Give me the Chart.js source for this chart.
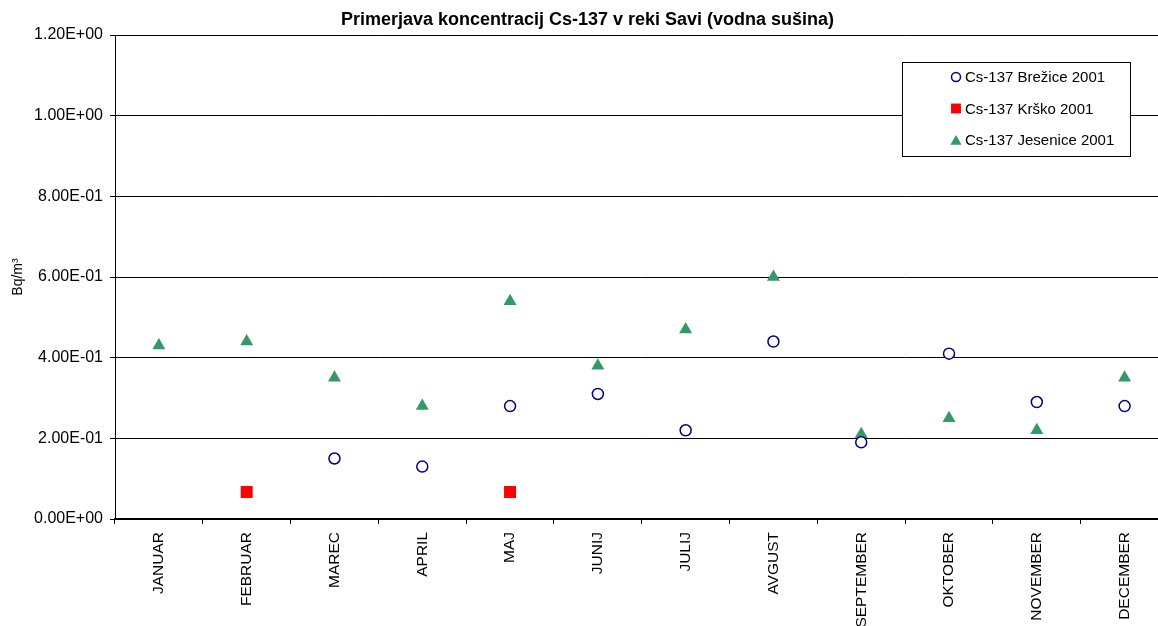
<!DOCTYPE html>
<html>
<head>
<meta charset="utf-8">
<script src="https://cdn.jsdelivr.net/npm/chart.js@4.4.1/dist/chart.umd.min.js"></script>
<style>
  html, body { margin: 0; padding: 0; background: #fff; overflow: hidden; }
  canvas { display: block; }
</style>
</head>
<body>
<canvas id="cs-chart" width="1177" height="626"></canvas>
<script>
// 数据
const months = ['JANUAR', 'FEBRUAR', 'MAREC', 'APRIL', 'MAJ', 'JUNIJ', 'JULIJ', 'AVGUST', 'SEPTEMBER', 'OKTOBER', 'NOVEMBER', 'DECEMBER'];
const brezice2001 = [null, null, 0.15, 0.13, 0.28, 0.31, 0.22, 0.44, 0.19, 0.41, 0.29, 0.28];
const krsko2001 = [null, 0.067, null, null, 0.067, null, null, null, null, null, null, null];
const jesenice2001 = [0.43, 0.44, 0.35, 0.28, 0.54, 0.38, 0.47, 0.60, 0.21, 0.25, 0.22, 0.35];
const seriesLabels = ['Cs-137 Brežice 2001', 'Cs-137 Krško 2001', 'Cs-137 Jesenice 2001'];

const FONT = '"Liberation Sans", Arial, sans-serif';

// Excel 风格的科学计数法
function sciLabel(v) {
    const s = Number(v).toExponential(2).toUpperCase();
    return s.replace(/E([+-])(\d)$/, 'E$10$2');
}

// 图例框（画在图表区域内右上角）
const boxLegend = {
    id: 'boxLegend',
    afterDraw(chart) {
        const ctx = chart.ctx;
        const x = 902, y = 62, w = 228, h = 94;
        ctx.save();
        ctx.fillStyle = '#fff';
        ctx.fillRect(x, y, w, h);
        ctx.strokeStyle = '#000';
        ctx.lineWidth = 1;
        ctx.strokeRect(x + 0.5, y + 0.5, w, h);
        ctx.font = '15px ' + FONT;
        ctx.textBaseline = 'middle';
        chart.data.datasets.forEach((ds, i) => {
            const cy = y + 15 + i * 31.5;
            ctx.fillStyle = ds.pointBackgroundColor;
            ctx.strokeStyle = ds.pointBorderColor;
            ctx.lineWidth = ds.pointBorderWidth;
            Chart.helpers.drawPoint(ctx, {
                pointStyle: ds.pointStyle,
                radius: ds.legendRadius,
                rotation: 0,
                borderWidth: ds.pointBorderWidth
            }, 956, cy + (ds.pointStyle === 'triangle' ? 1.5 : 0));
            ctx.fillStyle = '#000';
            ctx.fillText(ds.label, 965, cy + 1);
        });
        ctx.restore();
    }
};

const canvas = document.getElementById('cs-chart');

window.csChart = new Chart(canvas, {
    type: 'line',
    data: {
        labels: months,
        datasets: [
            {
                label: seriesLabels[0],
                data: brezice2001,
                showLine: false,
                pointStyle: 'circle',
                pointRadius: 5.5,
                legendRadius: 4.5,
                pointBackgroundColor: '#fff',
                pointBorderColor: '#000080',
                pointBorderWidth: 1.5
            },
            {
                label: seriesLabels[1],
                data: krsko2001,
                showLine: false,
                pointStyle: 'rect',
                pointRadius: 8.5,
                legendRadius: 7,
                pointBackgroundColor: '#ff0000',
                pointBorderColor: '#ff0000',
                pointBorderWidth: 0
            },
            {
                label: seriesLabels[2],
                data: jesenice2001,
                showLine: false,
                pointStyle: 'triangle',
                pointRadius: 7.5,
                legendRadius: 6.5,
                pointBackgroundColor: '#339966',
                pointBorderColor: '#339966',
                pointBorderWidth: 0
            }
        ]
    },
    options: {
        responsive: false,
        animation: false,
        layout: {
            padding: { left: 0, right: 2, top: 0, bottom: 0 }
        },
        plugins: {
            legend: { display: false },
            tooltip: { enabled: false },
            title: {
                display: true,
                text: 'Primerjava koncentracij Cs-137 v reki Savi (vodna sušina)',
                color: '#000',
                font: { family: FONT, size: 18, weight: 'bold' },
                padding: { top: 9, bottom: 4.4 }
            }
        },
        scales: {
            x: {
                type: 'category',
                offset: true,
                grid: {
                    offset: true,
                    drawOnChartArea: false,
                    tickLength: 5,
                    color: '#000'
                },
                border: { color: '#000', width: 2 },
                ticks: {
                    autoSkip: false,
                    minRotation: 90,
                    maxRotation: 90,
                    padding: 8,
                    color: '#000',
                    font: { family: FONT, size: 15.5 }
                },
                afterFit(scale) { scale.height = 107; }
            },
            y: {
                min: 0,
                max: 1.2,
                grid: {
                    color: '#000',
                    tickLength: 5
                },
                border: { color: '#000', width: 1 },
                ticks: {
                    stepSize: 0.2,
                    padding: 7,
                    color: '#000',
                    font: { family: FONT, size: 16 },
                    callback: (v) => sciLabel(v)
                },
                title: {
                    display: true,
                    text: 'Bq/m³',
                    color: '#000',
                    font: { family: FONT, size: 14 },
                    padding: { top: 10, bottom: 0 }
                },
                afterFit(scale) { scale.width = 115; }
            }
        }
    },
    plugins: [boxLegend]
});
</script>
</body>
</html>
